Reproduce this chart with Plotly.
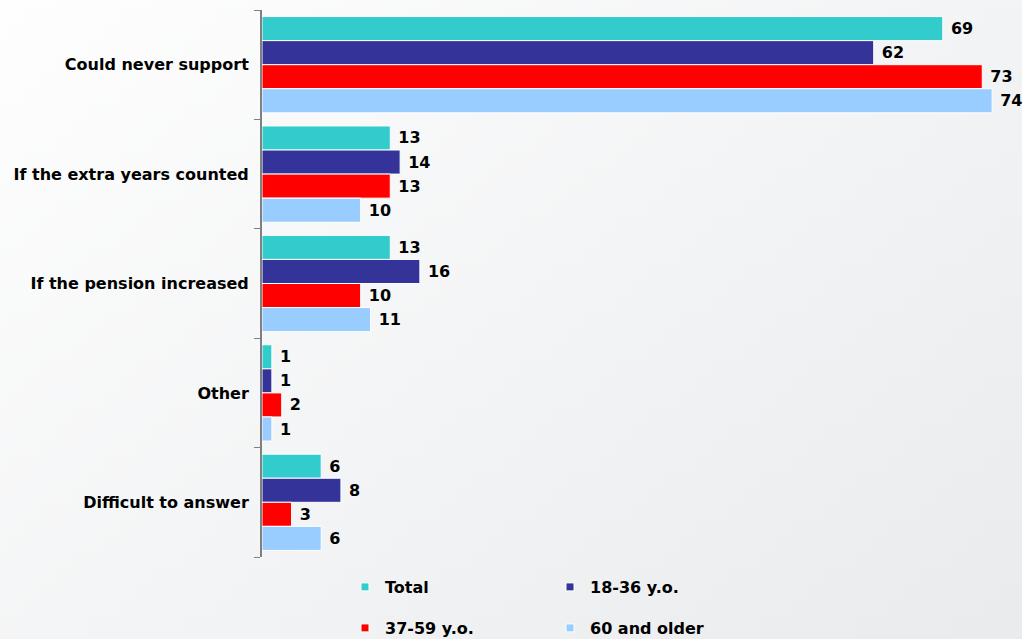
import base64, struct, zlib
import plotly.graph_objects as go

categories = ["Could never support", "If the extra years counted", "If the pension increased", "Other", "Difficult to answer"]
series_names = ["Total", "18-36 y.o.", "37-59 y.o.", "60 and older"]
total = [69, 13, 13, 1, 6]
age_18_36 = [62, 14, 16, 1, 8]
age_37_59 = [73, 13, 10, 2, 3]
age_60_plus = [74, 10, 11, 1, 6]
colors = ["#33CCCC", "#333399", "#FF0000", "#99CCFF"]

W, H = 1022, 639
ML, MR, MT, MB = 262, 20, 10, 82
PW = W - ML - MR
PH = H - MT - MB


def gradient_png(w=64, h=40):
    c0 = (254, 254, 254)
    c1 = (233, 235, 237)
    rows = b""
    for j in range(h):
        row = b"\x00"
        for i in range(w):
            t = (i / (w - 1)) * 0.55 + (j / (h - 1)) * 0.45
            row += bytes(int(round(c0[k] + (c1[k] - c0[k]) * t)) for k in range(3))
        rows += row

    def chunk(tag, data):
        c = struct.pack(">I", len(data)) + tag + data
        return c + struct.pack(">I", zlib.crc32(tag + data) & 0xFFFFFFFF)

    png = b"\x89PNG\r\n\x1a\n"
    png += chunk(b"IHDR", struct.pack(">IIBBBBB", w, h, 8, 2, 0, 0, 0))
    png += chunk(b"IDAT", zlib.compress(rows))
    png += chunk(b"IEND", b"")
    return "data:image/png;base64," + base64.b64encode(png).decode()


font_family = "DejaVu Sans"
values = [total, age_18_36, age_37_59, age_60_plus]
legends = ["legend", "legend", "legend2", "legend2"]

fig = go.Figure()
for name, vals, col in zip(series_names, values, colors):
    fig.add_trace(go.Bar(
        y=categories, x=vals, name=name, orientation="h",
        marker=dict(color=col, line=dict(color="white", width=1)),
        text=[f"\u00a0<b>{v}</b>" for v in vals], textposition="outside",
        textfont=dict(family=font_family, size=16, color="black"),
        cliponaxis=False, showlegend=False,
    ))

# legend-only entries with small square swatches
for name, col, lg in zip(series_names, colors, legends):
    fig.add_trace(go.Scatter(
        x=[None], y=[None], mode="markers", name=f"<b>{name}</b>",
        marker=dict(symbol="square", size=8, color=col, line=dict(color="white", width=1)),
        legend=lg, showlegend=True, hoverinfo="skip",
    ))

fig.add_layout_image(dict(
    source=gradient_png(), xref="paper", yref="paper",
    x=-ML / PW, y=1 + MT / PH, sizex=W / PW, sizey=H / PH,
    sizing="stretch", xanchor="left", yanchor="top", layer="below",
))

legend_common = dict(
    orientation="h", xanchor="left", yanchor="middle",
    xref="container", yref="container",
    font=dict(family=font_family, size=16, color="black"),
    bgcolor="rgba(0,0,0,0)", entrywidth=160, entrywidthmode="pixels",
    traceorder="normal",
)

fig.update_layout(
    width=W, height=H,
    margin=dict(l=ML, r=MR, t=MT, b=MB, autoexpand=False),
    paper_bgcolor="rgba(0,0,0,0)", plot_bgcolor="rgba(0,0,0,0)",
    barmode="group", bargap=0.12, bargroupgap=0.0,
    font=dict(family=font_family, size=16, color="black"),
    showlegend=True,
    legend=dict(x=345 / W, y=1 - 587 / H, **legend_common),
    legend2=dict(x=345 / W, y=1 - 628 / H, **legend_common),
    xaxis=dict(range=[0, 75], visible=False, showgrid=False, zeroline=False),
    yaxis=dict(
        autorange="reversed", showline=True, linecolor="#808080", linewidth=2,
        ticks="outside", tickson="boundaries", ticklen=6, tickcolor="#808080",
        tickwidth=1, showgrid=False, zeroline=False,
        tickfont=dict(family=font_family, size=16, color="black"),
        ticklabelstandoff=8,
    ),
)
fig.update_yaxes(tickvals=categories, ticktext=[f"<b>{c}</b>" for c in categories])

fig.write_html(
    "out.html",
    config={"displayModeBar": False},
    post_script="document.body.style.margin='0px';document.body.style.overflow='hidden';",
)
